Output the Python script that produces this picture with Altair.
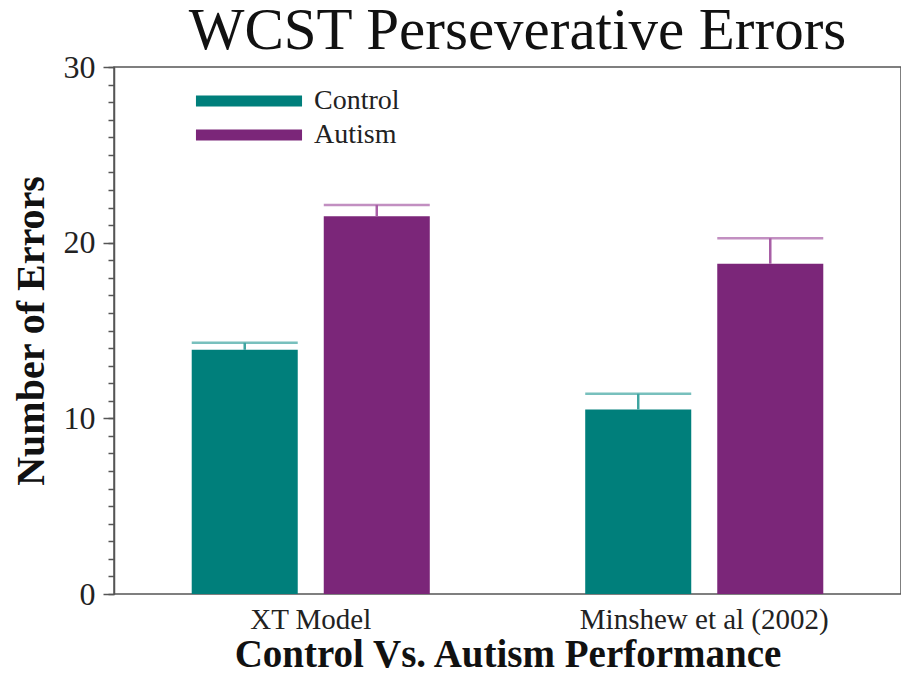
import altair as alt
import pandas as pd

groups = ["XT Model", "Minshew et al (2002)"]
series = ["Control", "Autism"]
control_mean = [13.9, 10.5]
autism_mean = [21.5, 18.8]
control_upper = [14.3, 11.4]
autism_upper = [22.15, 20.25]

bar_colors = ["#007F7B", "#7B2679"]
err_colors = ["#3FA5A1", "#A85FA6"]
y_major = [0, 10, 20, 30]
y_minor = list(range(0, 31))

rows = []
for i, g in enumerate(groups):
    rows.append({"group": g, "series": "Control", "value": control_mean[i], "upper": control_upper[i]})
    rows.append({"group": g, "series": "Autism", "value": autism_mean[i], "upper": autism_upper[i]})
df = pd.DataFrame(rows)

FONT = "Liberation Serif"

x_enc = alt.X(
    "group:N", sort=groups,
    scale=alt.Scale(paddingInner=0.395, paddingOuter=0.1975),
    axis=alt.Axis(title="Control Vs. Autism Performance", ticks=False, domain=False,
                  labelAngle=0, labelFontSize=29, labelPadding=11, labelFont=FONT,
                  labelLimit=500, labelColor="#222", titleFont=FONT, titleFontSize=39,
                  titleFontWeight="bold", titlePadding=1, titleColor="#111"),
)
xo_enc = alt.XOffset("series:N", sort=series, scale=alt.Scale(paddingInner=0.197, paddingOuter=0))
y_scale = alt.Scale(domain=[0, 30], nice=False, zero=True)

bars = alt.Chart(df).mark_bar().encode(
    x=x_enc,
    xOffset=xo_enc,
    y=alt.Y("value:Q", scale=y_scale,
            axis=alt.Axis(values=y_major, orient="left", title="Number of Errors", tickSize=11,
                          labelPadding=8, labelFontSize=32, labelFont=FONT, labelColor="#222",
                          domain=True, domainColor="#555", tickColor="#555", domainWidth=1.5,
                          tickWidth=1.5, grid=False, titleFont=FONT, titleFontSize=40,
                          titleFontWeight="bold", titlePadding=12, titleColor="#111")),
    color=alt.Color("series:N", sort=series,
                    scale=alt.Scale(domain=series, range=bar_colors),
                    legend=alt.Legend(orient="none", legendX=121, legendY=20, title=None,
                                      symbolType="M-4.42,-0.46H4.42V0.46H-4.42Z",
                                      symbolSize=576, symbolStrokeWidth=0, labelOffset=51,
                                      labelFontSize=28, labelFont=FONT, labelColor="#222",
                                      rowPadding=6, padding=0, symbolOpacity=1)),
)

err = alt.Chart(df).mark_rule(strokeWidth=2.5).encode(
    x=x_enc,
    xOffset=xo_enc,
    y=alt.Y("value:Q", scale=y_scale,
            axis=alt.Axis(values=y_minor, orient="left", title=None, labels=False, tickSize=6,
                          domain=False, grid=False, tickColor="#555", tickWidth=1.5)),
    y2="upper:Q",
    stroke=alt.Stroke("series:N", sort=series, scale=alt.Scale(domain=series, range=err_colors),
                      legend=None),
)

caps = alt.Chart(df).mark_tick(size=106, thickness=2.5, orient="horizontal").encode(
    x=x_enc,
    xOffset=xo_enc,
    y=alt.Y("upper:Q", scale=y_scale, axis=None),
    fill=alt.Fill("series:N", sort=series, scale=alt.Scale(domain=series, range=err_colors),
                  legend=None),
)

chart = alt.layer(bars, err, caps).resolve_axis(y="independent").properties(
    width=787, height=527,
    autosize=alt.AutoSizeParams(type="none"),
    padding={"left": 106, "top": 59, "right": 0, "bottom": 79},
    background="white",
    title=alt.Title("WCST Perseverative Errors", font=FONT, fontSize=59, fontWeight="normal",
                    color="#111", anchor="middle", offset=-10, dx=10),
).configure_view(stroke="#555555", strokeWidth=1.5)

chart.save("out.html", embed_options={"renderer": "svg", "actions": False})
